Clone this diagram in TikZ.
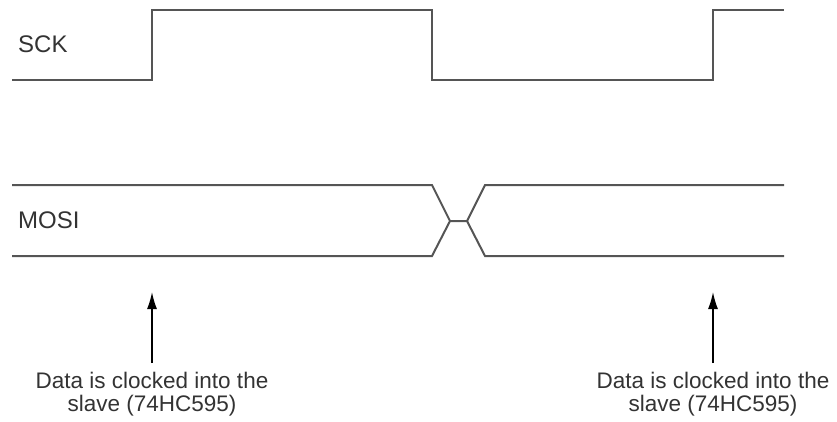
\documentclass[tikz,border=0pt]{standalone}
\usepackage{fontspec}
\setmainfont{Liberation Sans}
\usetikzlibrary{arrows.meta}
\definecolor{wire}{HTML}{555555}
\definecolor{ink}{HTML}{333333}

\tikzstyle{signal} = [draw=wire,line width=2pt,line join=miter]
\tikzstyle{sig label} = [anchor=west,inner sep=0pt,text=ink,font=\fontsize{24}{26}\selectfont]
\tikzstyle{caption} = [anchor=north,inner sep=0pt,align=center,text=ink,font=\fontsize{22.5}{23}\selectfont]
\tikzstyle{clock edge} = [draw,line width=1.5pt,-{Latex[length=17pt,width=10pt]},shorten <=9pt]

\begin{document}
\begin{tikzpicture}[x=1pt,y=-1pt]
\useasboundingbox (0,0) rectangle (837,421);
\node[sig label] (SCK) at (18,44) {SCK};
\node[sig label] (MOSI) at (18,220) {MOSI};
% clock
\path[signal] (12,80) -- (152,80) -- (152,10) -- (432,10) -- (432,80)
  -- (713,80) -- (713,10) -- (784,10);
% data
\path[signal] (12,185) -- (432,185) -- (450,221) -- (467,221) -- (485,185) -- (784,185);
\path[signal] (12,256) -- (432,256) -- (450,221);
\path[signal] (467,221) -- (485,256) -- (784,256);
\foreach \xpos/\side in {152/L, 713/R}{
  \node[caption] (cap\side) at (\xpos,372) {Data is clocked into the\\slave (74HC595)};
  \coordinate (edge\side) at (\xpos,292);
  \path[clock edge] (cap\side) -- (edge\side);
}
\end{tikzpicture}
\end{document}
